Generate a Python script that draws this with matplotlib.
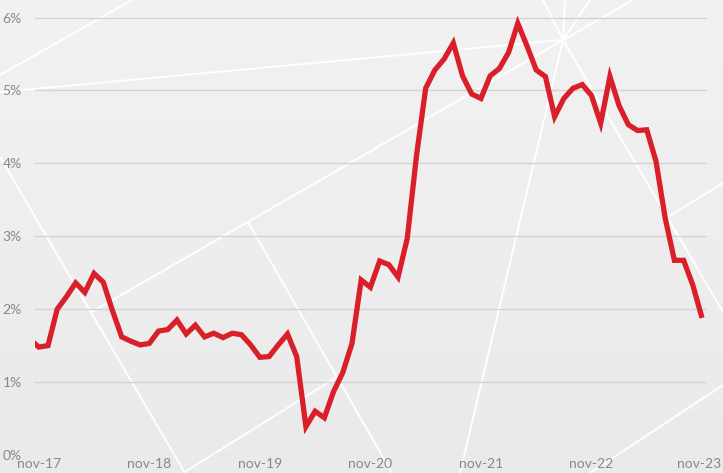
import numpy as np
import matplotlib
matplotlib.use("Agg")
import matplotlib.pyplot as plt
from matplotlib.transforms import ScaledTranslation

plt.rcParams['font.family'] = ['Lato', 'DejaVu Sans']

# monthly rate, oct-17 .. nov-23 (first point sits just outside the visible range)
rate = [1.59,
        1.48, 1.50, 2.00, 2.17, 2.36, 2.23, 2.49, 2.37, 1.98, 1.62, 1.56, 1.51,
        1.53, 1.70, 1.72, 1.85, 1.66, 1.78, 1.62, 1.67, 1.61, 1.67, 1.65, 1.51,
        1.34, 1.35, 1.51, 1.66, 1.35, 0.39, 0.60, 0.51, 0.87, 1.13, 1.53, 2.40,
        2.30, 2.66, 2.61, 2.44, 2.97, 4.10, 5.03, 5.28, 5.43, 5.65, 5.20, 4.95,
        4.89, 5.20, 5.30, 5.52, 5.92, 5.61, 5.28, 5.19, 4.64, 4.89, 5.03, 5.08,
        4.93, 4.55, 5.19, 4.79, 4.53, 4.45, 4.46, 4.03, 3.25, 2.67, 2.67, 2.33,
        1.88]
months = np.arange(-1, len(rate) - 1)
tick_pos = [0, 12, 24, 36, 48, 60, 72]
tick_labels = ['nov-17', 'nov-18', 'nov-19', 'nov-20', 'nov-21', 'nov-22', 'nov-23']
y_ticks = [0, 1, 2, 3, 4, 5, 6]

W, H = 723, 473
fig = plt.figure(figsize=(W / 100, H / 100), dpi=100)

# background: soft vertical gradient + white decorative lines
bg = fig.add_axes([0, 0, 1, 1])
grad = np.linspace(0, 1, 256).reshape(-1, 1)
bg.imshow(grad, cmap=matplotlib.colors.LinearSegmentedColormap.from_list(
    'g', ['#f2f2f2', '#eaeaea']), aspect='auto', extent=[0, W, H, 0])
deco = [
    ((0, 75), (132, 0)),
    ((0, 92), (563, 40)),
    ((90, 313), (636, -2)),
    ((248, 222), (392, 473)),
    ((0, 157), (185, 473)),
    ((183, 473), (337, 377)),
    ((563, 40), (460, 473)),
    ((563, 40), (565, 0)),
    ((563, 40), (543, 0)),
    ((563, 40), (590, 0)),
    ((563, 40), (723, 312)),
    ((590, 473), (723, 385)),
    ((668, 217), (723, 183)),
]
for (x0, y0), (x1, y1) in deco:
    bg.plot([x0, x1], [y0, y1], color='white', lw=1.4, solid_capstyle='butt')
bg.set_xlim(0, W)
bg.set_ylim(H, 0)
bg.axis('off')

ax = fig.add_axes([35 / W, 18 / H, 672 / W, 455 / H])
ax.patch.set_alpha(0)
ax.plot(months, rate, color='#d9202a', lw=3.8, solid_joinstyle='miter',
        solid_capstyle='butt', zorder=3)
ax.set_xlim(-0.41, 72.54)
ax.set_ylim(0, 6.24)
ax.set_yticks(y_ticks)
ax.set_yticklabels([f'{v}%' for v in y_ticks])
ax.set_xticks(tick_pos)
ax.set_xticklabels(tick_labels)
ax.grid(axis='y', color='#d3d3d3', lw=1.0)
ax.set_axisbelow(True)
for s in ax.spines.values():
    s.set_visible(False)
ax.tick_params(axis='both', length=0, labelsize=10, colors='#888888')
ax.tick_params(axis='y', pad=9.5)
ax.tick_params(axis='x', pad=2)

# keep the last month label inside the canvas
last = ax.get_xticklabels()[-1]
last.set_transform(last.get_transform() + ScaledTranslation(-3 / 100, 0, fig.dpi_scale_trans))

fig.savefig('out.png', dpi=100)
